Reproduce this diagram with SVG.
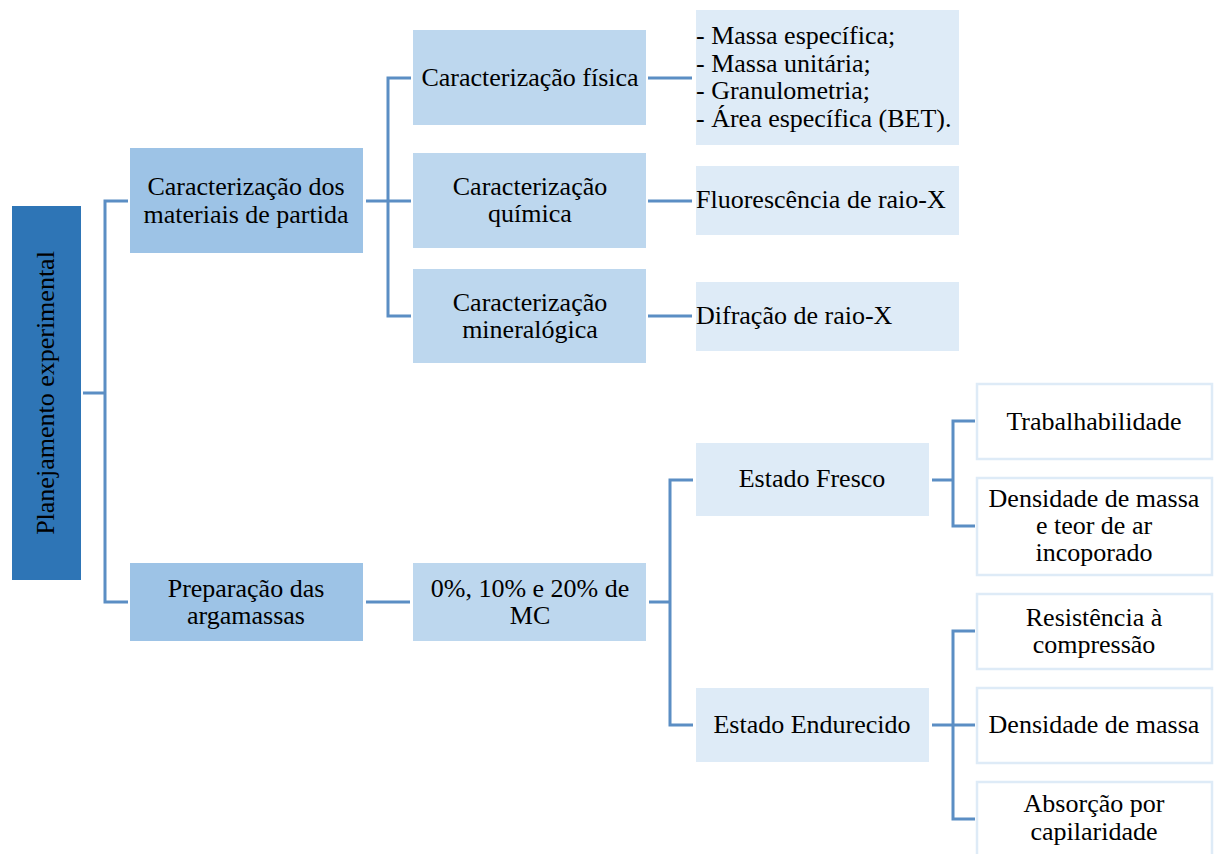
<svg xmlns="http://www.w3.org/2000/svg" width="1214" height="854" viewBox="0 0 1214 854">
<style>
.c{text-anchor:middle}
.l0{fill:#2E75B6}
.l1{fill:#9DC3E6}
.l2{fill:#BDD7EE}
.l3{fill:#DEEBF7}
.lf{fill:#FFFFFF;stroke:#DEEBF7;stroke-width:2.5}
.cn{fill:none;stroke:#5B8EC4;stroke-width:3}
</style>
<rect width="1214" height="854" fill="#fff"/>
<g id="connectors">
<path class="cn" d="M83,393 H105 M128,201 H105 V602 H128"/>
<path class="cn" d="M366,201 H388 M411,78 H388 V316 H411 M388,201 H411"/>
<path class="cn" d="M648,78 H692 M648,201 H692 M648,316 H692"/>
<path class="cn" d="M366,602 H410"/>
<path class="cn" d="M649,602 H670 M693,480 H670 V725 H693"/>
<path class="cn" d="M932,480 H953 M975,421 H953 V526 H975"/>
<path class="cn" d="M932,725 H975 M975,631 H953 V819 H975"/>
</g>
<g font-family="Liberation Serif" font-size="26" fill="#000">
<g id="root">
<rect class="l0" x="12" y="206" width="69" height="374"/>
<text class="c" transform="translate(54,393) rotate(-90)">Planejamento experimental</text>
</g>
<g id="n-materiais">
<rect class="l1" x="130" y="148" width="233" height="105"/>
<text class="c" x="246" y="195">Caracterização dos</text>
<text class="c" x="246" y="223">materiais de partida</text>
</g>
<g id="n-preparacao">
<rect class="l1" x="130" y="563" width="233" height="78"/>
<text class="c" x="246" y="597">Preparação das</text>
<text class="c" x="246" y="624">argamassas</text>
</g>
<g id="n-fisica">
<rect class="l2" x="413" y="30" width="233" height="95"/>
<text class="c" x="530" y="86">Caracterização física</text>
</g>
<g id="n-quimica">
<rect class="l2" x="413" y="153" width="233" height="95"/>
<text class="c" x="530" y="195">Caracterização</text>
<text class="c" x="530" y="222">química</text>
</g>
<g id="n-mineralogica">
<rect class="l2" x="413" y="269" width="233" height="94"/>
<text class="c" x="530" y="311">Caracterização</text>
<text class="c" x="530" y="338">mineralógica</text>
</g>
<g id="n-lista-fisica">
<rect class="l3" x="696" y="10" width="263" height="135"/>
<text x="696" y="44">- Massa específica;</text>
<text x="696" y="71.5">- Massa unitária;</text>
<text x="696" y="99">- Granulometria;</text>
<text x="696" y="126.5">- Área específica (BET).</text>
</g>
<g id="n-fluorescencia">
<rect class="l3" x="696" y="166" width="263" height="69"/>
<text x="696" y="208">Fluorescência de raio-X</text>
</g>
<g id="n-difracao">
<rect class="l3" x="696" y="282" width="263" height="69"/>
<text x="696" y="324">Difração de raio-X</text>
</g>
<g id="n-mc">
<rect class="l2" x="413" y="563" width="233" height="78"/>
<text class="c" x="530" y="597">0%, 10% e 20% de</text>
<text class="c" x="530" y="624">MC</text>
</g>
<g id="n-fresco">
<rect class="l3" x="696" y="443" width="233" height="73"/>
<text class="c" x="812" y="487">Estado Fresco</text>
</g>
<g id="n-endurecido">
<rect class="l3" x="696" y="688" width="233" height="74"/>
<text class="c" x="812" y="733">Estado Endurecido</text>
</g>
<g id="n-trabalhabilidade">
<rect class="lf" x="977" y="384" width="235" height="75"/>
<text class="c" x="1094" y="430">Trabalhabilidade</text>
</g>
<g id="n-densidade-teor">
<rect class="lf" x="977" y="478" width="235" height="97"/>
<text class="c" x="1094" y="507">Densidade de massa</text>
<text class="c" x="1094" y="534">e teor de ar</text>
<text class="c" x="1094" y="561">incoporado</text>
</g>
<g id="n-resistencia">
<rect class="lf" x="977" y="594" width="235" height="75"/>
<text class="c" x="1094" y="626">Resistência à</text>
<text class="c" x="1094" y="653">compressão</text>
</g>
<g id="n-densidade">
<rect class="lf" x="977" y="688" width="235" height="75"/>
<text class="c" x="1094" y="733">Densidade de massa</text>
</g>
<g id="n-absorcao">
<rect class="lf" x="977" y="782" width="235" height="76"/>
<text class="c" x="1094" y="812">Absorção por</text>
<text class="c" x="1094" y="840">capilaridade</text>
</g>
</g>
</svg>
